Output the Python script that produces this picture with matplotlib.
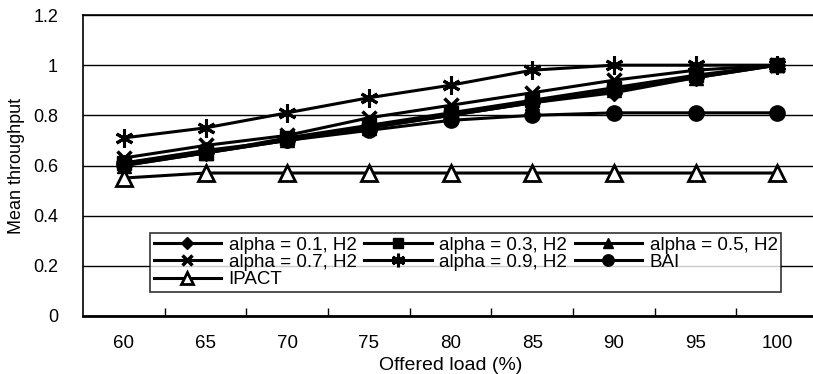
import numpy as np
import matplotlib.pyplot as plt
from matplotlib.ticker import FuncFormatter, FixedLocator

plt.rcParams['font.family'] = ['Liberation Sans', 'DejaVu Sans']

# categories (offered load, %)
loads = ["60", "65", "70", "75", "80", "85", "90", "95", "100"]

# mean throughput per scheme
alpha_01 = [0.60, 0.65, 0.70, 0.75, 0.80, 0.85, 0.89, 0.95, 1.00]
alpha_03 = [0.61, 0.65, 0.71, 0.76, 0.81, 0.86, 0.91, 0.96, 1.00]
alpha_05 = [0.60, 0.65, 0.70, 0.75, 0.80, 0.85, 0.90, 0.95, 1.00]
alpha_07 = [0.63, 0.68, 0.72, 0.79, 0.84, 0.89, 0.94, 0.98, 1.00]
alpha_09 = [0.71, 0.75, 0.81, 0.87, 0.92, 0.98, 1.00, 1.00, 1.00]
bai = [0.61, 0.66, 0.70, 0.74, 0.78, 0.80, 0.81, 0.81, 0.81]
ipact = [0.55, 0.57, 0.57, 0.57, 0.57, 0.57, 0.57, 0.57, 0.57]

fig = plt.figure(figsize=(8.13, 3.74), dpi=100)
ax = fig.add_axes([83 / 813, 58 / 374, 735 / 813, 301 / 374])

x = np.arange(len(loads))
lw = 2.2
h01, = ax.plot(x, alpha_01, color='black', lw=lw, marker='D', ms=8, label='alpha = 0.1, H2')
h05, = ax.plot(x, alpha_05, color='black', lw=lw, marker='^', ms=10, label='alpha = 0.5, H2')
h07, = ax.plot(x, alpha_07, color='black', lw=lw, marker='x', ms=10, mew=2.5, label='alpha = 0.7, H2')
h09, = ax.plot(x, alpha_09, color='black', lw=lw, marker=(6, 2, 0), ms=13, mew=2.2, label='alpha = 0.9, H2')
h03, = ax.plot(x, alpha_03, color='black', lw=lw, marker='s', ms=10, label='alpha = 0.3, H2')
hbai, = ax.plot(x, bai, color='black', lw=lw, marker='o', ms=11, label='BAI')
hip, = ax.plot(x, ipact, color='black', lw=lw, marker='^', ms=11, mfc='white', mew=2, label='IPACT')

ax.set_xlim(-0.5, len(loads) - 0.5)
ax.set_ylim(0, 1.2)
ax.set_yticks(np.arange(0, 1.21, 0.2))
ax.yaxis.set_major_formatter(FuncFormatter(lambda v, p: '%g' % round(v, 1)))
ax.tick_params(axis='y', length=0, pad=18, labelsize=13)
ax.grid(axis='y', color='black', lw=1)
ax.set_axisbelow(True)

ax.set_xticks(x)
ax.set_xticklabels(loads)
ax.tick_params(axis='x', which='major', length=0, pad=14, labelsize=13.5)
ax.xaxis.set_minor_locator(FixedLocator(x[:-1] + 0.5))
ax.tick_params(axis='x', which='minor', direction='in', length=6, width=1)

ax.spines['right'].set_visible(False)
ax.spines['top'].set_linewidth(1.2)
ax.spines['left'].set_linewidth(1.2)
ax.spines['bottom'].set_linewidth(2)

ax.set_xlabel('Offered load (%)', fontsize=14, labelpad=3)
ax.set_ylabel('Mean throughput', fontsize=13, labelpad=6)

handles = [h01, h07, hip, h03, h09, h05, hbai]
leg = ax.legend(handles, [h.get_label() for h in handles], ncol=3,
                loc='lower left', bbox_to_anchor=(0.091, 0.08, 0.859, 0.206),
                mode='expand', fontsize=13.5, frameon=True, fancybox=False,
                handlelength=3.6, handletextpad=0.4, labelspacing=0.0,
                borderpad=0.2, borderaxespad=0, markerscale=0.75)
leg.get_frame().set_edgecolor('black')
leg.get_frame().set_linewidth(1.2)

plt.savefig('out.png', dpi=100)
